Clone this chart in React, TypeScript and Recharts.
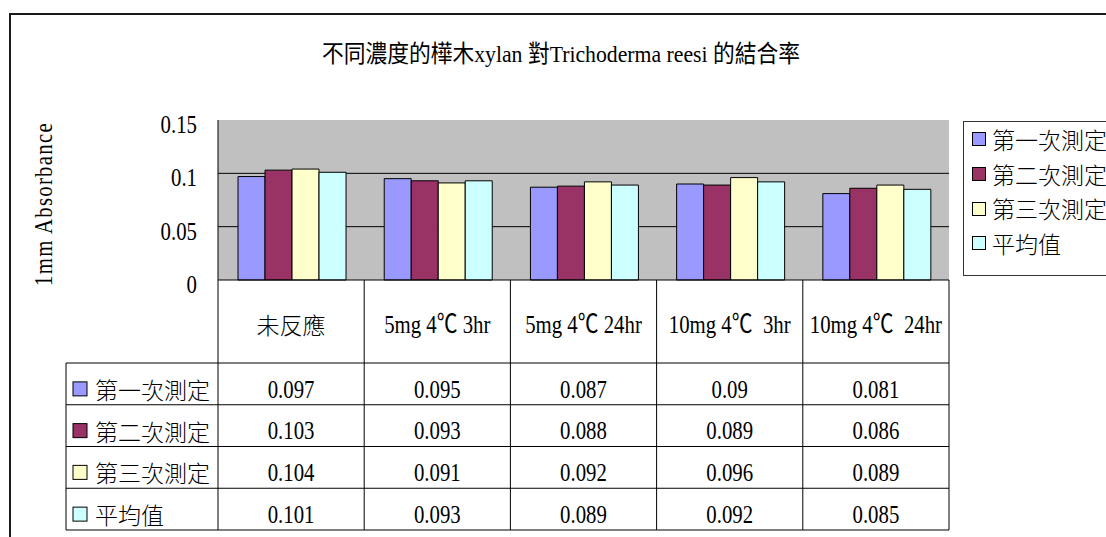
import React from 'react'
import { BarChart, Bar, XAxis, YAxis, CartesianGrid, Legend } from 'recharts'

// categories and the three runs plus their average
const categories = ['未反應', '5mg 4℃ 3hr', '5mg 4℃ 24hr', '10mg 4℃  3hr', '10mg 4℃  24hr']
const firstRun = [0.097, 0.095, 0.087, 0.09, 0.081]
const secondRun = [0.103, 0.093, 0.088, 0.089, 0.086]
const thirdRun = [0.104, 0.091, 0.092, 0.096, 0.089]
const average = [0.101, 0.093, 0.089, 0.092, 0.085]
const yTicks = [0, 0.05, 0.1, 0.15]

const series = [
  { key: 'first', name: '第一次測定', values: firstRun, color: '#9999FF' },
  { key: 'second', name: '第二次測定', values: secondRun, color: '#993366' },
  { key: 'third', name: '第三次測定', values: thirdRun, color: '#FFFFCC' },
  { key: 'avg', name: '平均值', values: average, color: '#CCFFFF' },
]

const data = categories.map((name, i) => {
  const row: Record<string, string | number> = { name }
  series.forEach((s) => { row[s.key] = s.values[i] })
  return row
})

// layout
const W = 1106
const H = 537
const MARGIN = { top: 120, right: 157, bottom: 7, left: 0 }
const Y_AXIS_W = 218
const X_AXIS_H = 250
const PLOT_W = W - MARGIN.left - MARGIN.right - Y_AXIS_W
const BAND = PLOT_W / categories.length
const HEAD_H = 83
const ROW_H = 41.75
const LABEL_COL_X = 66
const ROW_SHIFT = 5

const LATIN = "'Liberation Serif', 'Noto Sans CJK TC', serif"
const CJK = "'Noto Sans CJK TC', sans-serif"
const isCjk = (s: string) => /^[\u3400-\u9fff]+$/.test(s)

// narrow serif text, like the condensed Ming font latin glyphs
function SerifText({ x, y, anchor = 'middle', children }: any) {
  return (
    <text
      transform={`translate(${x},${y}) scale(0.8,1)`}
      textAnchor={anchor}
      dominantBaseline="central"
      fontFamily={LATIN}
      fontSize={26}
      fill="#000"
      style={{ whiteSpace: 'pre' }}
    >
      {children}
    </text>
  )
}

function CjkText({ x, y, anchor = 'middle', children }: any) {
  return (
    <text x={x} y={y} textAnchor={anchor} dominantBaseline="central" fontFamily={CJK} fontWeight={300} fontSize={23} fill="#000">
      {children}
    </text>
  )
}

function Label({ x, y, text, anchor = 'middle' }: { x: number; y: number; text: string; anchor?: string }) {
  return isCjk(text)
    ? <CjkText x={x} y={y} anchor={anchor}>{text}</CjkText>
    : <SerifText x={x} y={y} anchor={anchor}>{text}</SerifText>
}

// each x tick draws its category cell and the column of values under it
function TableTick(props: any) {
  const { x, y, payload } = props
  const i = payload.index
  const left = x - BAND / 2
  const right = x + BAND / 2
  const rowsTop = y + HEAD_H
  const bottom = rowsTop + ROW_H * series.length
  const lines = series.map((_, r) => rowsTop + r * ROW_H).concat([bottom])

  return (
    <g>
      <line x1={right} y1={y} x2={right} y2={bottom} stroke="#000" />
      {lines.map((ly, k) => (
        <line key={k} x1={left} y1={ly} x2={right} y2={ly} stroke="#000" />
      ))}
      <Label x={x} y={y + 44} text={payload.value} />
      {series.map((s, r) => (
        <SerifText key={s.key} x={x} y={rowsTop + r * ROW_H + ROW_H / 2 + ROW_SHIFT}>
          {String(s.values[i])}
        </SerifText>
      ))}
      {i === 0 && (
        <g>
          <line x1={left} y1={y} x2={left} y2={bottom} stroke="#000" />
          <line x1={LABEL_COL_X} y1={rowsTop} x2={LABEL_COL_X} y2={bottom} stroke="#000" />
          {lines.map((ly, k) => (
            <line key={k} x1={LABEL_COL_X} y1={ly} x2={left} y2={ly} stroke="#000" />
          ))}
          {series.map((s, r) => {
            const cy = rowsTop + r * ROW_H + ROW_H / 2 + ROW_SHIFT
            return (
              <g key={s.key}>
                <rect x={LABEL_COL_X + 7} y={cy - 7} width={14} height={14} fill={s.color} stroke="#000" />
                <CjkText x={LABEL_COL_X + 29} y={cy} anchor="start">{s.name}</CjkText>
              </g>
            )
          })}
        </g>
      )}
    </g>
  )
}

function YTick(props: any) {
  const { x, y, payload } = props
  return <SerifText x={x - 21} y={y + 4} anchor="end">{String(payload.value)}</SerifText>
}

function YLabel(props: any) {
  const vb = props.viewBox || { x: 0, y: MARGIN.top, height: 160 }
  const cx = 43
  const cy = vb.y + vb.height / 2 + 4
  return (
    <text
      transform={`translate(${cx},${cy}) rotate(-90) scale(0.8,1)`}
      textAnchor="middle"
      dominantBaseline="central"
      fontFamily={LATIN}
      fontSize={26}
      letterSpacing={1.6}
      fill="#000"
    >
      1mm Absorbance
    </text>
  )
}

function LegendBox() {
  return (
    <div
      style={{
        border: '1px solid #333',
        background: '#fff',
        height: 155,
        boxSizing: 'border-box',
        fontFamily: CJK,
        fontWeight: 300,
        fontSize: 23,
        color: '#000',
      }}
    >
      {series.map((s) => (
        <div key={s.key} style={{ height: 34.7, display: 'flex', alignItems: 'center', paddingLeft: 8 }}>
          <span
            style={{
              display: 'inline-block',
              width: 14,
              height: 14,
              boxSizing: 'border-box',
              background: s.color,
              border: '1px solid #000',
              marginRight: 6,
            }}
          />
          <span style={{ whiteSpace: 'nowrap', lineHeight: 1 }}>{s.name}</span>
        </div>
      ))}
    </div>
  )
}

export default function App() {
  return (
    <div style={{ position: 'relative', width: W, height: H, overflow: 'hidden', background: '#fff' }}>
      <style>{'body{margin:0}'}</style>
      <div
        style={{
          position: 'absolute',
          left: 9,
          top: 13,
          width: 1300,
          height: 700,
          borderTop: '2px solid #1a1a1a',
          borderLeft: '2px solid #1a1a1a',
        }}
      />
      <BarChart
        width={W}
        height={H}
        data={data}
        margin={MARGIN}
        barCategoryGap="13.7%"
        barGap={0}
      >
        <CartesianGrid fill="#C0C0C0" vertical={false} stroke="#000" horizontalValues={[0.05, 0.1]} />
        <XAxis
          dataKey="name"
          height={X_AXIS_H}
          interval={0}
          tickSize={0}
          tickMargin={0}
          tickLine={false}
          axisLine={{ stroke: '#000' }}
          tick={<TableTick />}
        />
        <XAxis xAxisId="top" dataKey="name" orientation="top" height={0} tick={false} tickLine={false} axisLine={{ stroke: '#808080' }} />
        <YAxis
          width={Y_AXIS_W}
          domain={[0, 0.15]}
          ticks={yTicks}
          tickSize={0}
          tickMargin={0}
          tickLine={false}
          axisLine={{ stroke: '#000' }}
          tick={<YTick />}
          label={<YLabel />}
        />
        <YAxis yAxisId="right" orientation="right" width={0} domain={[0, 0.15]} tick={false} tickLine={false} axisLine={{ stroke: '#808080' }} />
        {series.map((s) => (
          <Bar key={s.key} dataKey={s.key} name={s.name} fill={s.color} stroke="#000" strokeWidth={1} isAnimationActive={false} />
        ))}
        {/* centred + middle keeps the legend from eating into the plot margins */}
        <Legend
          layout="horizontal"
          verticalAlign="middle"
          align="center"
          content={<LegendBox />}
          wrapperStyle={{ position: 'absolute', left: 963, top: 121, width: 170, height: 155, right: 'auto', bottom: 'auto' }}
        />
        <text
          x={561}
          y={54}
          textAnchor="middle"
          dominantBaseline="central"
          fontFamily={LATIN}
          fontSize={24}
          textLength={478}
          lengthAdjust="spacingAndGlyphs"
          fill="#000"
        >
          不同濃度的樺木xylan 對Trichoderma reesi 的結合率
        </text>
      </BarChart>
    </div>
  )
}
